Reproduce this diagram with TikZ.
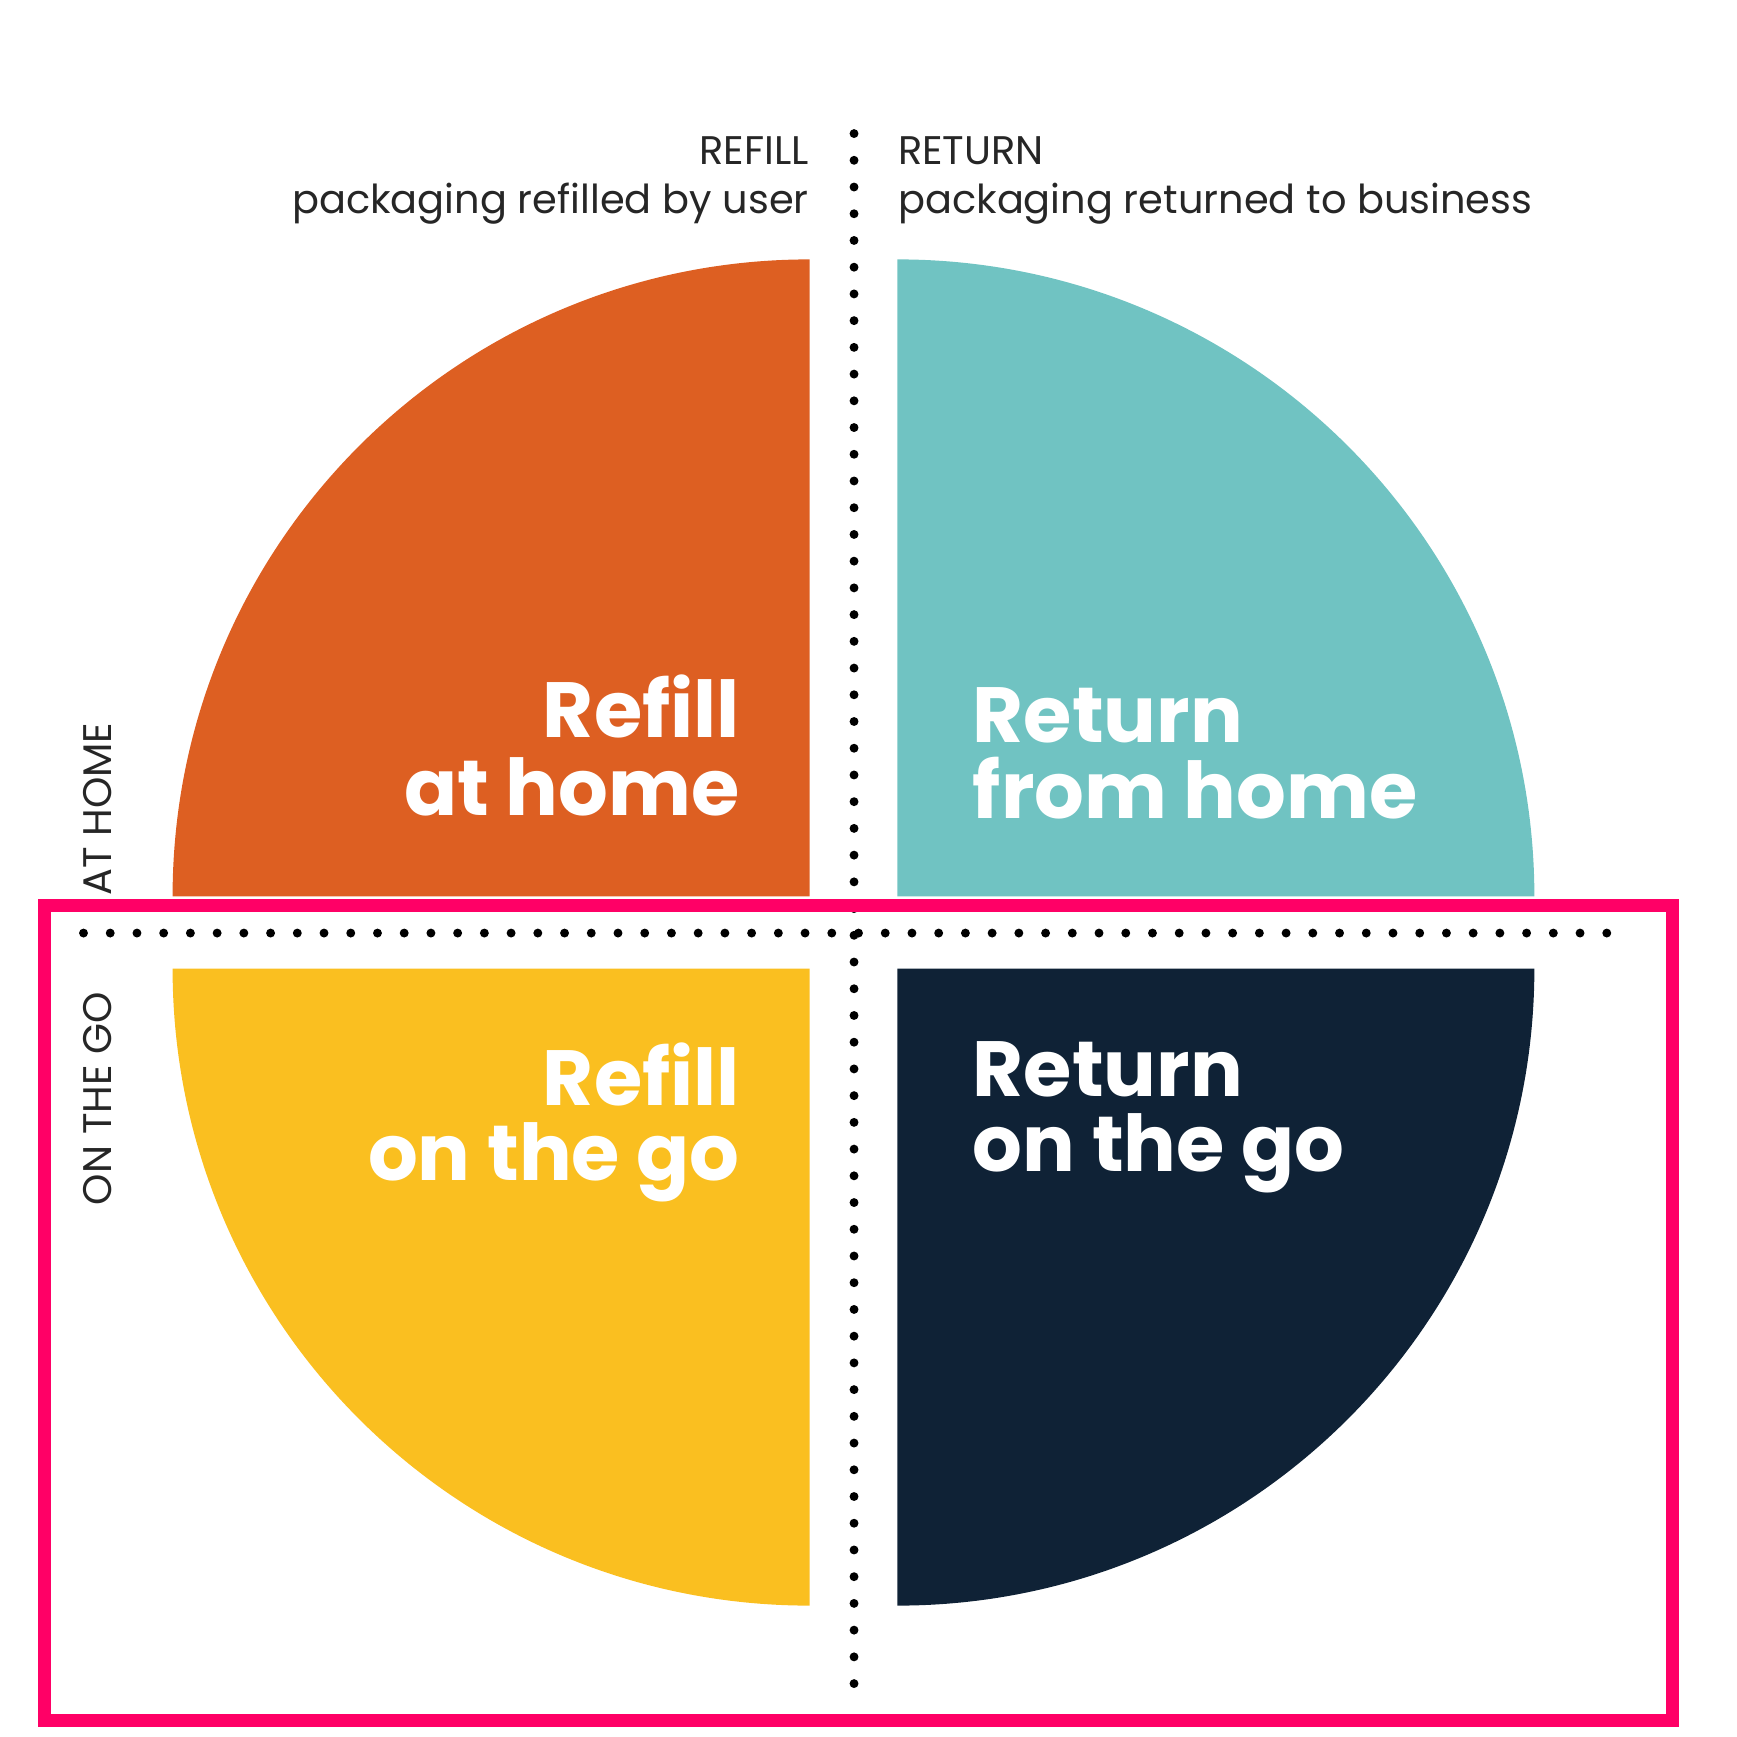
\documentclass[tikz,border=0pt]{standalone}
\usepackage{fontspec}
\setmainfont{Poppins}
\usetikzlibrary{positioning}
\definecolor{orangeQ}{HTML}{DD5F22}
\definecolor{tealQ}{HTML}{70C3C2}
\definecolor{yellowQ}{HTML}{FABF20}
\definecolor{navyQ}{HTML}{0F2236}
\definecolor{pinkQ}{HTML}{FF0066}
\begin{document}
\begin{tikzpicture}
	\tikzstyle{dots}=[line width=0.08cm, line cap=round, dash pattern=on 0pt off 0.24cm]
	\tikzstyle{big}=[text=white, font=\fontsize{20}{20}\selectfont\bfseries, inner sep=0pt]
	\tikzstyle{small}=[text=black!85, font=\fontsize{10.2}{11}\selectfont, inner sep=0pt]
	\useasboundingbox (0,0) rectangle (15.6,15.6);
	
	% quadrants
	\fill[orangeQ] (7.27,7.55) -- ++(-5.72,0) arc (180:90:5.72) -- cycle;
	\fill[tealQ] (8.06,7.55) -- ++(0,5.72) arc (90:0:5.72) -- cycle;
	\fill[yellowQ] (7.27,6.90) -- ++(-5.72,0) arc (180:270:5.72) -- cycle;
	\fill[navyQ] (8.06,6.90) -- ++(5.72,0) arc (0:-90:5.72) -- cycle;
	
	% axes
	\coordinate (vtop) at (7.67,14.40);
	\coordinate (vbot) at (7.67,0.30);
	\coordinate (hleft) at (0.75,7.22);
	\coordinate (hright) at (14.60,7.22);
	\draw[dots] (vtop) -- (vbot);
	\draw[dots] (hleft) -- (hright);
	
	% headings
	\node[small, anchor=base east] (refill) at (7.27,14.12) {REFILL};
	\node[small, anchor=base east] (refillsub) at (7.27,13.68) {packaging refilled by user};
	\node[small, anchor=base west] (return) at (8.06,14.12) {RETURN};
	\node[small, anchor=base west] (returnsub) at (8.06,13.68) {packaging returned to business};
	\node[small, anchor=base west, rotate=90] (home) at (1.00,7.55) {AT HOME};
	\node[small, anchor=base west, rotate=90] (go) at (1.00,4.77) {ON THE GO};
	
	% quadrant labels
	\node[big, anchor=base east] (rah1) at (6.65,8.98) {Refill};
	\node[big, anchor=base east] (rah2) at (6.65,8.28) {at home};
	\node[big, anchor=base west] (rfh1) at (8.73,8.93) {Return};
	\node[big, anchor=base west] (rfh2) at (8.73,8.25) {from home};
	\node[big, anchor=base east] (rog1) at (6.65,5.67) {Refill};
	\node[big, anchor=base east] (rog2) at (6.65,5.00) {on the go};
	\node[big, anchor=base west] (tog1) at (8.73,5.75) {Return};
	\node[big, anchor=base west] (tog2) at (8.73,5.08) {on the go};
	
	% frame
	\draw[pinkQ, line width=0.12cm] (0.40,0.15) rectangle (15.02,7.47);
\end{tikzpicture}
\end{document}
